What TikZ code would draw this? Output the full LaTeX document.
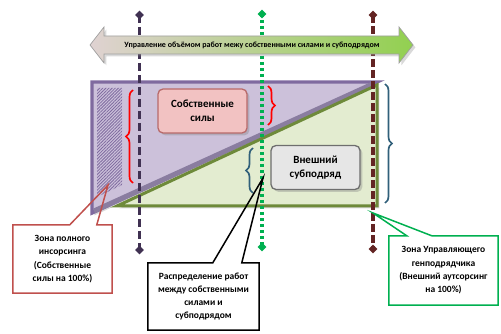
\documentclass[tikz,border=0pt]{standalone}
\usepackage{fontspec}
\setmainfont{Carlito}
\usetikzlibrary{shapes.geometric,decorations.pathreplacing,patterns.meta,shadows,calc}
\definecolor{pfill}{HTML}{CCC1DA}
\definecolor{pline}{HTML}{7F6A9F}
\definecolor{pdiag}{HTML}{8A7DA0}
\definecolor{gfill}{HTML}{E3ECD0}
\definecolor{gline}{HTML}{6E8A3A}
\definecolor{lpurple}{HTML}{403152}
\definecolor{lgreen}{HTML}{00B050}
\definecolor{lred}{HTML}{632423}
\definecolor{cred}{HTML}{C0504D}
\definecolor{bteal}{HTML}{31607A}
\definecolor{pinkbox}{HTML}{F2C2C2}
\definecolor{pinkline}{HTML}{B86A6A}
\definecolor{graybox}{HTML}{E6E6E6}
\definecolor{grayline}{HTML}{6E6E6E}
\definecolor{arrgreen}{HTML}{92D050}
\tikzset{
  vline/.style={line width=3.2pt},
  endmark/.style={diamond,fill=#1,inner sep=0pt,minimum size=9pt},
  brc/.style={decorate,decoration={brace,amplitude=7pt},line width=1.7pt,draw=#1},
  infobox/.style={rounded corners=5pt,line width=1.3pt,drop shadow={opacity=0.35},
    minimum width=89pt,minimum height=44pt,align=center,inner sep=0pt,
    font=\fontsize{11}{13.5}\selectfont\bfseries},
  callbox/.style={fill=white,inner sep=0pt,align=center,
    font=\fontsize{9.5}{13.3}\selectfont\bfseries},
  callline/.style={line width=1.5pt,draw=#1,line join=miter}
}
\begin{document}
\begin{tikzpicture}[x=1pt,y=-1pt]
\useasboundingbox (0,0) rectangle (501,334);
% triangles
\draw[fill=pfill,draw=pline,line width=3.4pt,line join=miter,drop shadow={opacity=0.3}]
  (92,82) -- (377,82) -- (92,213) -- cycle;
\fill[pattern={Lines[angle=45,distance=2.2pt,line width=0.8pt]},pattern color=pline]
  (97,88) -- (122,88) -- (122,185) -- (97,197) -- cycle;
\draw[draw=pdiag,line width=5pt,line cap=butt] (94,211) -- (375,83);
\draw[fill=gfill,draw=gline,line width=3pt,line join=miter,drop shadow={opacity=0.3}]
  (117,206) -- (377,85) -- (377,206) -- cycle;
% braces
\draw[brc=red] (133,183) -- (133,90);
\draw[brc=red] (268,86) -- (268,125);
\draw[brc=bteal] (253,193) -- (253,148);
\draw[brc=bteal] (385,84) -- (385,203);
% boxes
\node[infobox,fill=pinkbox,draw=pinkline] (own) at (202.5,111) {Собственные\\силы};
\node[infobox,fill=graybox,draw=grayline] (ext) at (315.5,167.5) {Внешний\\субподряд};
% vertical lines
\node[endmark=lpurple] (pt) at (139.5,15) {};
\node[endmark=lpurple] (pb) at (139.5,250) {};
\node[endmark=lgreen] (gt) at (262,14) {};
\node[endmark=lgreen] (gb) at (262,247) {};
\node[endmark=lred] (rt) at (373,15) {};
\node[endmark=lred] (rb) at (373,249) {};
\draw[vline,draw=lpurple,dash pattern=on 8pt off 4pt] (pt.center) -- (pb.center);
\draw[vline,draw=lgreen,dash pattern=on 3pt off 3pt] (gt.center) -- (gb.center);
\draw[vline,draw=lred,dash pattern=on 8pt off 3pt] (rt.center) -- (rb.center);
% top double arrow
\shade[left color=red!18!gray!30!white,middle color=white!92!yellow,right color=arrgreen,
  draw=gray!75,line width=0.7pt,drop shadow={opacity=0.3}]
  (90,45) -- (104,27) -- (104,36) -- (399,36) -- (399,27) -- (413,45)
  -- (399,63) -- (399,54) -- (104,54) -- (104,63) -- cycle;
\node[font=\fontsize{8}{9}\selectfont\bfseries] (title) at (252,45)
  {Управление объёмом работ межу собственными силами и субподрядом};
% callouts
\coordinate (rtip) at (108,185);
\node[callbox,minimum width=99pt,minimum height=68pt] (rz) at (62.5,259)
  {Зона полного\\инсорсинга\\(Собственные\\силы на 100\%)};
\draw[callline=cred] (rz.north west) -- ++(57,0) -- (rtip) -- ($(rz.north west)+(84,0)$)
  -- (rz.north east) -- (rz.south east) -- (rz.south west) -- cycle;
\coordinate (btip) at (263,178);
\node[callbox,minimum width=111pt,minimum height=67pt] (bz) at (203.5,296.5)
  {Распределение работ\\между собственными\\силами и\\субподрядом};
\draw[callline=black] (bz.north west) -- ++(65,0) -- (btip) -- ($(bz.north west)+(94,0)$)
  -- (bz.north east) -- (bz.south east) -- (bz.south west) -- cycle;
\coordinate (gtip) at (373,213);
\node[callbox,minimum width=109pt,minimum height=69pt] (gz) at (443.5,270.5)
  {Зона Управляющего\\генподрядчика\\(Внешний аутсорсинг\\на 100\%)};
\draw[callline=lgreen] (gz.north west) -- ++(18,0) -- (gtip) -- ($(gz.north west)+(43,0)$)
  -- (gz.north east) -- (gz.south east) -- (gz.south west) -- cycle;
\end{tikzpicture}
\end{document}
